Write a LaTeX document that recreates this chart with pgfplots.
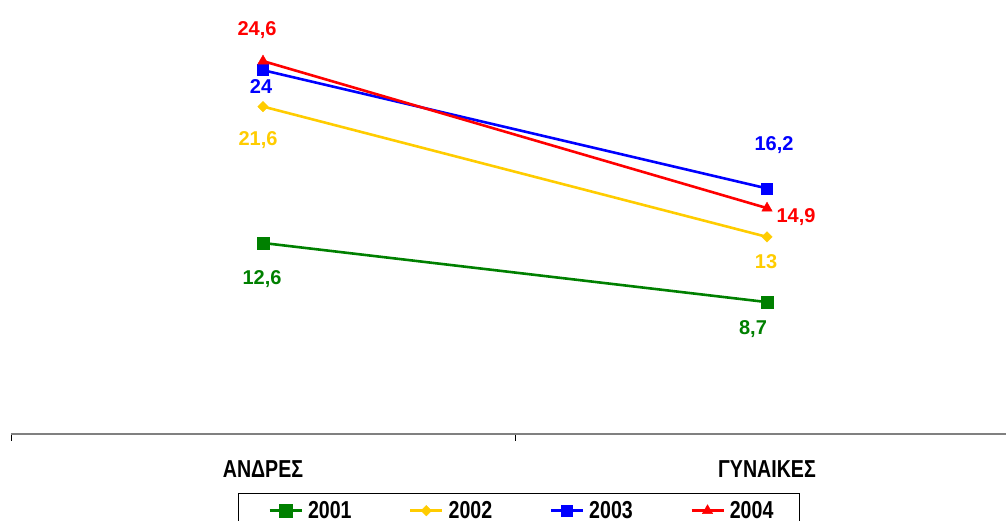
\documentclass[border=0pt]{standalone}
\usepackage{pgfplots}
\pgfplotsset{compat=1.18}
\usepackage{fontspec}
\setmainfont{Liberation Sans}
\newfontfamily\narrowfont{Liberation Sans}[FakeStretch=0.8]

\definecolor{cgreen}{RGB}{0,128,0}
\definecolor{cyellow}{RGB}{255,204,0}
\definecolor{cblue}{RGB}{0,0,255}
\definecolor{cred}{RGB}{255,0,0}
\definecolor{axisgray}{RGB}{128,128,128}

% value labels and category / legend text
\newcommand\vlab{\bfseries\fontsize{20bp}{22bp}\selectfont}
\newcommand\clab{\narrowfont\bfseries\fontsize{24.5bp}{28bp}\selectfont}

\begin{document}
\begin{tikzpicture}[x=1bp,y=1bp]
\useasboundingbox (0,0) rectangle (1006,521);
\begin{axis}[
  at={(11bp,87bp)}, anchor=south west,
  scale only axis, width=1008bp, height=434bp,
  xmin=0.5, xmax=2.5, ymin=0, ymax=28.63,
  clip=false,
  hide y axis,
  axis x line=bottom,
  x axis line style={-, draw=axisgray, line width=1.7bp},
  xtick={0.5,1.5,2.5}, xticklabels={},
  tick align=outside, major tick length=7bp,
  xtick style={black, line width=0.8bp},
  extra x ticks={1,2},
  extra x tick labels={ΑΝΔΡΕΣ,ΓΥΝΑΙΚΕΣ},
  extra x tick style={major tick length=0pt},
  xticklabel style={anchor=base, yshift=-44bp, font=\clab, inner sep=0pt},
  legend columns=4,
  legend style={
    at={(0.2252,-0.13594)}, anchor=north west,
    draw=black, line width=0.8bp,
    inner xsep=30bp, inner ysep=8bp,
    column sep=5bp,
    nodes={inner sep=0pt},
    font=\clab,
  },
  legend image code/.code={%
    \draw[#1, mark repeat=2, mark phase=2]
      plot coordinates {(0bp,0bp) (16bp,0bp) (32bp,0bp)};},
]

\addplot[cgreen, line width=2.6bp, mark=square*,
  mark options={solid, fill=cgreen, line width=0.4bp}, mark size=6.2bp]
  coordinates {(1,12.6) (2,8.7)}
  node[pos=0, anchor=base, xshift=-1bp, yshift=-41.5bp, text=cgreen, font=\vlab]{12,6}
  node[pos=1, anchor=base, xshift=-14bp, yshift=-32.5bp, text=cgreen, font=\vlab]{8,7};
\addlegendentry{\makebox[96bp][l]{2001}}

\addplot[cyellow, line width=2.6bp, mark=square*,
  mark options={solid, fill=cyellow, line width=0.4bp, rotate=45}, mark size=3.7bp]
  coordinates {(1,21.6) (2,13)}
  node[pos=0, anchor=base, xshift=-5bp, yshift=-39bp, text=cyellow, font=\vlab]{21,6}
  node[pos=1, anchor=base, xshift=-1bp, yshift=-32bp, text=cyellow, font=\vlab]{13};
\addlegendentry{\makebox[96bp][l]{2002}}

\addplot[cblue, line width=2.6bp, mark=square*,
  mark options={solid, fill=cblue, line width=0.4bp}, mark size=5.5bp]
  coordinates {(1,24) (2,16.2)}
  node[pos=0, anchor=base, xshift=-2bp, yshift=-23.5bp, text=cblue, font=\vlab]{24}
  node[pos=1, anchor=base, xshift=7bp, yshift=37.5bp, text=cblue, font=\vlab]{16,2};
\addlegendentry{\makebox[96bp][l]{2003}}

\addplot[cred, line width=2.6bp, mark=triangle*,
  mark options={solid, fill=cred, line width=0.4bp}, mark size=6bp]
  coordinates {(1,24.6) (2,14.9)}
  node[pos=0, anchor=base, xshift=-6bp, yshift=26bp, text=cred, font=\vlab]{24,6}
  node[pos=1, anchor=base, xshift=29bp, yshift=-14.5bp, text=cred, font=\vlab]{14,9};
\addlegendentry{\makebox[40bp][l]{2004}}

\end{axis}
\end{tikzpicture}
\end{document}
